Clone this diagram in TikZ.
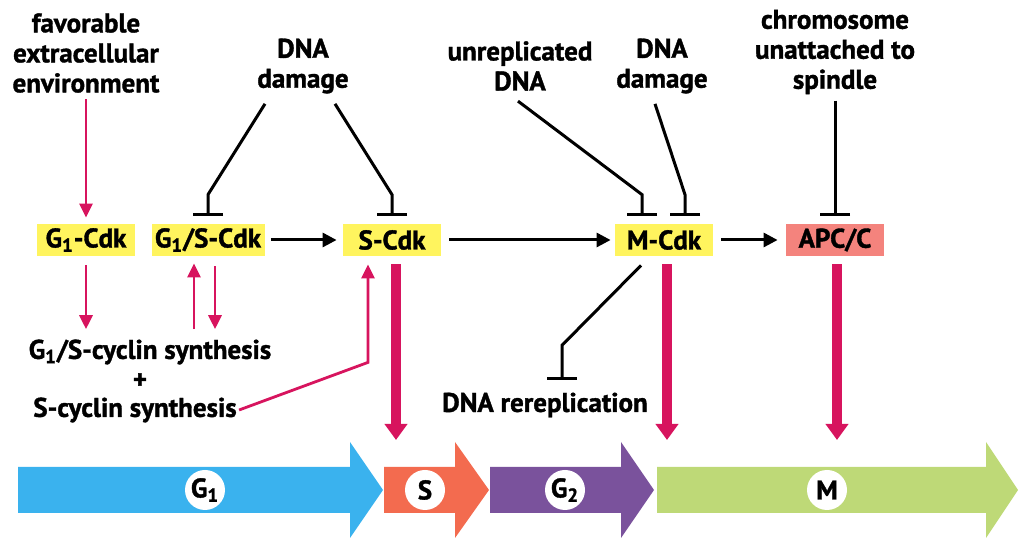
\documentclass[tikz,border=0pt]{standalone}
\usepackage{fontspec}
\setmainfont{PT Sans}[BoldFeatures={FakeBold=1.3}]
\usetikzlibrary{positioning,calc,arrows.meta}
\definecolor{cdkyellow}{HTML}{FFF45E}
\definecolor{apcred}{HTML}{F4837D}
\definecolor{actpink}{HTML}{D7145E}
\definecolor{g1blue}{HTML}{3AB2EE}
\definecolor{sorange}{HTML}{F36B4F}
\definecolor{g2purple}{HTML}{7A529C}
\definecolor{mgreen}{HTML}{BED977}

\begin{document}
\begin{tikzpicture}[x=0.5pt, y=-0.5pt, font=\fontsize{13.5}{15}\selectfont\bfseries]
        \tikzstyle{every node}=[align=center, inner sep=1pt]
        \tikzstyle{cdk}=[fill=cdkyellow, minimum width=49pt, minimum height=16pt]
        \tikzstyle{inhib}=[line width=1.5pt, -{Bar[width=15pt]}]
        \tikzstyle{act}=[line width=1.5pt, -{Triangle[length=7pt, width=7pt]}]
        \tikzstyle{pinkact}=[act, actpink, line width=1.4pt, -{Triangle[length=7pt, width=6.5pt]}]
        \tikzstyle{bigact}=[actpink, line width=5pt, -{Triangle[length=8pt, width=11pt]}]
        \tikzstyle{phaselabel}=[circle, fill=white, minimum size=20pt, inner sep=0pt]

        \useasboundingbox (0,0) rectangle (1024,550);

        \node   (env)    at (86,53)  {favorable\\extracellular\\environment};
        \node   (dd1)    at (303,66) {DNA\\damage};
        \node   (unrep)  at (520,66) {unreplicated\\DNA};
        \node   (dd2)    at (662,66) {DNA\\damage};
        \node   (chrom)  at (835,52) {chromosome\\unattached to\\spindle};

        \node   (g1cdk)  [cdk] at (86,240)  {G\textsubscript{1}-Cdk};
        \node   (g1scdk) [cdk, minimum width=56.5pt] at (208,240) {G\textsubscript{1}/S-Cdk};
        \node   (scdk)   [cdk] at (392,240) {S-Cdk};
        \node   (mcdk)   [cdk] at (664,240) {M-Cdk};
        \node   (apc)    [cdk, fill=apcred] at (835,240) {APC/C};

        \node   (cyc1)   at (150,352) {G\textsubscript{1}/S-cyclin synthesis};
        \node   (plus)   at (140,381) {+};
        \node   (cyc2)   at (135,410) {S-cyclin synthesis};
        \node   (rerep)  at (545,405) {DNA rereplication};

        \coordinate (up)   at ($(g1scdk.south)+(-14,0)$);
        \coordinate (down) at ($(g1scdk.south)+(7,0)$);

        \foreach \xa/\xb/\xc/\xl/\col/\nm/\lab in {18/350/383/205/g1blue/pg1/{G\textsubscript{1}},
                384/455/489/425/sorange/ps/S,
                490/621/654/565/g2purple/pg2/{G\textsubscript{2}},
                657/986/1018/827/mgreen/pm/M} {
            \fill[\col] (\xa,467) -- (\xb,467) -- (\xb,442) -- (\xc,490) -- (\xb,538) -- (\xb,513) -- (\xa,513) -- cycle;
            \node   (\nm) [phaselabel] at (\xl,490) {\lab};
        }

        \draw[pinkact, shorten <=2pt, shorten >=3pt] (env.south) -- (g1cdk.north);
        \draw[inhib] ($(dd1.south)+(-38,8)$) -- ($(g1scdk.north)+(0,-29)$) -- ($(g1scdk.north)+(0,-8)$);
        \draw[inhib] ($(dd1.south)+(32,8)$) -- ($(scdk.north)+(0,-29)$) -- ($(scdk.north)+(0,-8)$);
        \draw[inhib] ($(unrep.south)+(-2,8)$) -- ($(mcdk.north)+(-22,-29)$) -- ($(mcdk.north)+(-22,-8)$);
        \draw[inhib] ($(dd2.south)+(-7,8)$) -- ($(mcdk.north)+(21,-29)$) -- ($(mcdk.north)+(21,-8)$);
        \draw[inhib] ($(chrom.south)+(0,4)$) -- ($(apc.north)+(0,-8)$);

        \draw[act, shorten <=3pt, shorten >=3pt] (g1scdk) -- (scdk);
        \draw[act, shorten <=4pt, shorten >=2pt] (scdk) -- (mcdk);
        \draw[act, shorten <=4pt, shorten >=4pt] (mcdk) -- (apc);

        \draw[pinkact, shorten <=4.5pt, shorten >=4pt] (g1cdk.south) -- (g1cdk.south |- cyc1.north);
        \draw[pinkact, shorten <=4pt, shorten >=3.5pt] (up |- cyc1.north) -- (up);
        \draw[pinkact, shorten <=5pt, shorten >=4pt] (down) -- (down |- cyc1.north);
        \draw[pinkact, shorten >=4pt] (cyc2.east) -- ($(scdk.south)+(-24,106)$) -- ($(scdk.south)+(-24,0)$);
        \draw[inhib] ($(mcdk.south)+(-23,9)$) -- ($(rerep.north)+(17,-45)$) -- ($(rerep.north)+(17,-10)$);

        \draw[bigact, shorten <=4pt] ($(scdk.south)+(4,0)$) -- (396,440);
        \draw[bigact, shorten <=4pt] ($(mcdk.south)+(3,0)$) -- (667,440);
        \draw[bigact, shorten <=4pt] ($(apc.south)+(2,0)$) -- (837,440);
\end{tikzpicture}
\end{document}
